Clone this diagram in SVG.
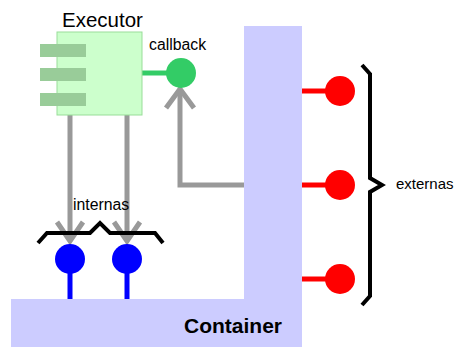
<svg xmlns="http://www.w3.org/2000/svg" width="457" height="347" viewBox="0 0 457 347">
<style>
text{font-family:"Liberation Sans",Arial,sans-serif;fill:#000}
.lbl{font-size:15.8px}
.gray{stroke:#999999;stroke-width:5;fill:none}
.brace{stroke:#000;stroke-width:4;fill:none}
.bar{fill:#99cc99}
</style>
<rect width="457" height="347" fill="#ffffff"/>
<g id="container">
<path d="M244,26 H302 V347 H11 V299 H244 Z" fill="#ccccff"/>
<text x="184" y="333" font-size="21" font-weight="bold">Container</text>
</g>
<g id="connectors">
<line x1="142" y1="73" x2="170" y2="73" stroke="#33cc66" stroke-width="5"/>
<polyline class="gray" points="244,185 180,185 180,90"/>
<polyline class="gray" points="166,108 180,89 194,108"/>
<line class="gray" x1="70" y1="115" x2="70" y2="240"/>
<polyline class="gray" points="57,222 70,241 83,222"/>
<line class="gray" x1="127" y1="115" x2="127" y2="240"/>
<polyline class="gray" points="114,222 127,241 140,222"/>
<line x1="70" y1="270" x2="70" y2="299" stroke="#0000ff" stroke-width="5"/>
<line x1="127" y1="270" x2="127" y2="299" stroke="#0000ff" stroke-width="5"/>
<line x1="302" y1="91" x2="330" y2="91" stroke="#ff0000" stroke-width="5"/>
<line x1="302" y1="185" x2="330" y2="185" stroke="#ff0000" stroke-width="5"/>
<line x1="302" y1="279" x2="330" y2="279" stroke="#ff0000" stroke-width="5"/>
</g>
<g id="executor">
<rect x="57" y="32" width="85" height="83" fill="#ccffcc" stroke="#99dd99" stroke-width="1"/>
<rect class="bar" x="40" y="44" width="46" height="13"/>
<rect class="bar" x="40" y="68" width="46" height="13"/>
<rect class="bar" x="40" y="93" width="46" height="13"/>
<text x="62" y="27" font-size="20.5">Executor</text>
</g>
<g id="callback">
<circle cx="181" cy="73" r="15" fill="#33cc66"/>
<text class="lbl" x="149" y="50">callback</text>
</g>
<g id="internas">
<polyline class="brace" points="38,243 47,233 90,233 100,223 110,233 155,233 163,243"/>
<circle cx="70" cy="259" r="15" fill="#0000ff"/>
<circle cx="127" cy="259" r="15" fill="#0000ff"/>
<text class="lbl" x="73" y="210">internas</text>
</g>
<g id="externas">
<polyline class="brace" points="362,65 370,74 370,178 382,185 370,192 370,296 362,305"/>
<circle cx="340" cy="91" r="15" fill="#ff0000"/>
<circle cx="340" cy="185" r="15" fill="#ff0000"/>
<circle cx="340" cy="279" r="15" fill="#ff0000"/>
<text x="396" y="189" font-size="15">externas</text>
</g>
</svg>
